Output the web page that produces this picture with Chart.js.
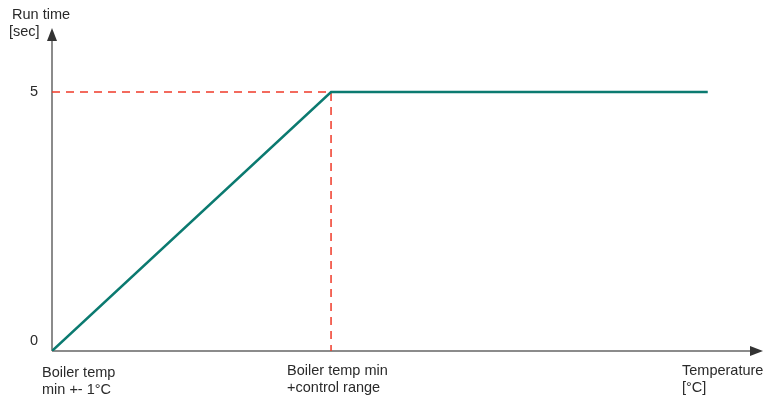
<!DOCTYPE html>
<html>
<head>
<meta charset="utf-8">
<script src="https://cdn.jsdelivr.net/npm/chart.js@4/dist/chart.umd.min.js"></script>
<style>
  html, body { margin: 0; padding: 0; background: #fff; }
  #wrap { width: 766px; height: 398px; }
</style>
</head>
<body>
<div id="wrap"><canvas id="chart"></canvas></div>
<script>
// temperature positions (0 = min +- 1°C, 1 = min + control range)
const runX = [0, 1, 2.35];
const runY = [0, 5, 5];
const refX = [0, 1, 1];
const refY = [5, 5, 0];
const yTicks = [0, 5];
const xTicks = [
  { value: 0, lines: ["Boiler temp", "min +- 1°C"] },
  { value: 1, lines: ["Boiler temp min", "+control range"] },
];
const xTitle = ["Temperature", "[°C]"];
const yTitle = ["Run time", "[sec]"];

const FONT = "14.5px 'Liberation Sans', Arial, sans-serif";

const axesPlugin = {
  id: "axesArrows",
  beforeDatasetsDraw(chart) {
    const ctx = chart.ctx;
    const a = chart.chartArea;
    const xs = chart.scales.x;
    const ys = chart.scales.y;
    const x0 = xs.getPixelForValue(0);
    const y0 = ys.getPixelForValue(0);
    ctx.save();
    ctx.strokeStyle = "#666";
    ctx.lineWidth = 1.5;
    ctx.beginPath();
    ctx.moveTo(x0, y0);
    ctx.lineTo(x0, a.top + 10);
    ctx.moveTo(x0, y0);
    ctx.lineTo(a.right - 10, y0);
    ctx.stroke();
    ctx.fillStyle = "#333";
    ctx.beginPath();
    ctx.moveTo(x0, a.top);
    ctx.lineTo(x0 - 5, a.top + 13);
    ctx.lineTo(x0 + 5, a.top + 13);
    ctx.closePath();
    ctx.fill();
    ctx.beginPath();
    ctx.moveTo(a.right, y0);
    ctx.lineTo(a.right - 13, y0 - 5);
    ctx.lineTo(a.right - 13, y0 + 5);
    ctx.closePath();
    ctx.fill();
    ctx.restore();
  },
  afterDraw(chart) {
    const ctx = chart.ctx;
    const xs = chart.scales.x;
    const ys = chart.scales.y;
    const y0 = ys.getPixelForValue(0);
    ctx.save();
    ctx.font = FONT;
    ctx.fillStyle = "#2a2a2a";
    ctx.textBaseline = "middle";
    // y ticks
    ctx.textAlign = "right";
    yTicks.forEach((t) => {
      let py = ys.getPixelForValue(t);
      if (t === 0) py -= 10;
      ctx.fillText(String(t), 38, py);
    });
    // x ticks
    ctx.textAlign = "left";
    xTicks.forEach((t, i) => {
      const px = xs.getPixelForValue(t.value) + (i === 0 ? -10 : -44);
      const top = i === 0 ? y0 + 22 : y0 + 20;
      t.lines.forEach((l, j) => ctx.fillText(l, px, top + j * 17));
    });
    // axis titles
    xTitle.forEach((l, j) => ctx.fillText(l, 682, y0 + 20 + j * 17));
    yTitle.forEach((l, j) => ctx.fillText(l, j === 0 ? 12 : 9, 15 + j * 17));
    ctx.restore();
  },
};

new Chart(document.getElementById("chart"), {
  type: "line",
  data: {
    datasets: [
      {
        label: "Run time",
        data: runX.map((x, i) => ({ x: x, y: runY[i] })),
        borderColor: "#0b7a70",
        borderWidth: 2.5,
        pointRadius: 0,
        tension: 0,
        fill: false,
        order: 1,
      },
      {
        label: "Reference",
        data: refX.map((x, i) => ({ x: x, y: refY[i] })),
        borderColor: "#f03a28",
        borderWidth: 1.5,
        borderDash: [8, 6],
        pointRadius: 0,
        tension: 0,
        fill: false,
        order: 2,
      },
    ],
  },
  options: {
    responsive: true,
    maintainAspectRatio: false,
    animation: false,
    layout: { padding: { left: 52, right: 3, top: 28, bottom: 47 } },
    plugins: { legend: { display: false }, tooltip: { enabled: false } },
    scales: {
      x: { type: "linear", min: 0, max: 2.548, display: false },
      y: { type: "linear", min: 0, max: 6.236, display: false },
    },
  },
  plugins: [axesPlugin],
});
</script>
</body>
</html>
